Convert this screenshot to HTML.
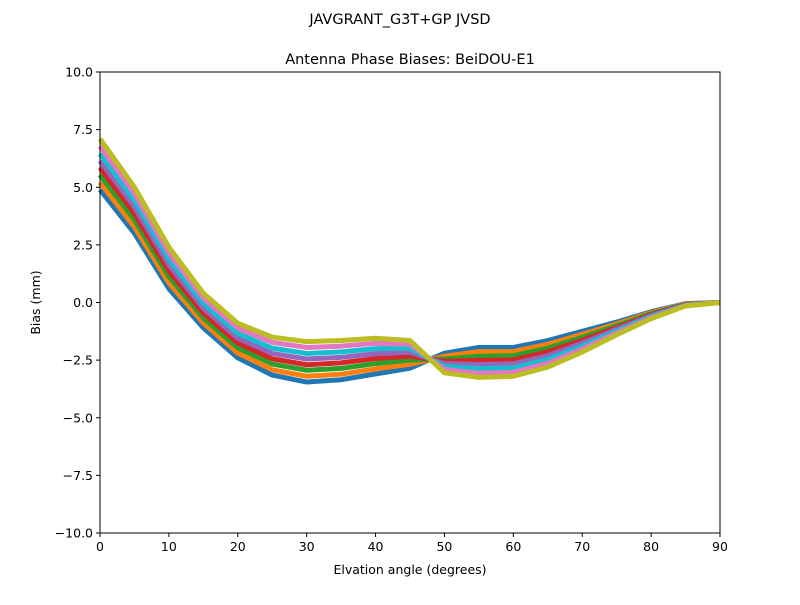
<!DOCTYPE html>
<html><head><meta charset="utf-8"><style>
body{margin:0;background:#fff}
text{font-family:"DejaVu Sans","Liberation Sans",sans-serif;fill:#000}
</style></head><body>
<svg id="chart" width="800" height="600" xmlns="http://www.w3.org/2000/svg">
<text x="400" y="24" font-size="14.5" text-anchor="middle">JAVGRANT_G3T+GP JVSD</text>
<text x="410" y="64" font-size="14.5" text-anchor="middle">Antenna Phase Biases: BeiDOU-E1</text>
<g id="lines"></g>
<g id="axes"></g>
<text x="410" y="574" font-size="12.5" text-anchor="middle">Elvation angle (degrees)</text>
<text transform="translate(40,302.5) rotate(-90)" font-size="12.5" text-anchor="middle">Bias (mm)</text>
</svg>
<script>
const elevations=[0,5,10,15,20,25,30,35,40,45,50,55,60,65,70,75,80,85,90];
const series0=[4.9,3.0,0.6,-1.1,-2.4,-3.15,-3.45,-3.35,-3.1,-2.85,-2.2,-1.95,-1.95,-1.65,-1.25,-0.85,-0.4,-0.05,0];
const series1=[5.21,3.28,0.85,-0.89,-2.19,-2.92,-3.2,-3.11,-2.88,-2.68,-2.33,-2.13,-2.13,-1.81,-1.38,-0.93,-0.44,-0.06,0];
const series2=[5.54,3.58,1.12,-0.67,-1.97,-2.67,-2.94,-2.86,-2.65,-2.5,-2.45,-2.33,-2.31,-1.98,-1.51,-1.01,-0.49,-0.08,0];
const series3=[5.85,3.86,1.37,-0.46,-1.76,-2.44,-2.7,-2.62,-2.43,-2.33,-2.55,-2.51,-2.49,-2.14,-1.64,-1.09,-0.53,-0.09,0];
const series4=[6.15,4.14,1.63,-0.25,-1.55,-2.21,-2.45,-2.38,-2.22,-2.16,-2.65,-2.69,-2.66,-2.31,-1.76,-1.16,-0.57,-0.11,0];
const series5=[6.46,4.42,1.88,-0.04,-1.34,-1.98,-2.21,-2.14,-2.0,-1.98,-2.77,-2.87,-2.84,-2.47,-1.89,-1.24,-0.61,-0.12,0];
const series6=[6.79,4.72,2.15,0.19,-1.11,-1.73,-1.95,-1.89,-1.77,-1.81,-2.9,-3.07,-3.03,-2.64,-2.02,-1.32,-0.66,-0.14,0];
const series7=[7.1,5.0,2.4,0.4,-0.9,-1.5,-1.7,-1.65,-1.55,-1.65,-3.05,-3.25,-3.2,-2.8,-2.15,-1.4,-0.7,-0.15,0];
const allSeries=[series0,series1,series2,series3,series4,series5,series6,series7];
const xTicks=[0,10,20,30,40,50,60,70,80,90];
const yTicks=[-10,-7.5,-5,-2.5,0,2.5,5,7.5,10];
const yTickLabels=["\u221210.0","\u22127.5","\u22125.0","\u22122.5","0.0","2.5","5.0","7.5","10.0"];
const colors=["#1f77b4","#ff7f0e","#2ca02c","#d62728","#9467bd","#17becf","#e377c2","#bcbd22","#8c564b","#7f7f7f"];
const X0=100,X1=720,Y0=533,Y1=72;
const xs=v=>X0+(v-0)/90*(X1-X0);
const ys=v=>Y0-(v+10)/20*(Y0-Y1);
const NS="http://www.w3.org/2000/svg";
const lg=document.getElementById('lines');
allSeries.forEach((s,i)=>{
  const p=document.createElementNS(NS,'polyline');
  p.setAttribute('points',s.map((v,j)=>xs(elevations[j])+','+ys(v)).join(' '));
  p.setAttribute('fill','none');
  p.setAttribute('stroke',colors[i%10]);
  p.setAttribute('stroke-width','5');
  p.setAttribute('stroke-linejoin','round');
  
  
  lg.appendChild(p);
});
const ag=document.getElementById('axes');
const r=document.createElementNS(NS,'rect');
r.setAttribute('x',X0);r.setAttribute('y',Y1);r.setAttribute('width',X1-X0);r.setAttribute('height',Y0-Y1);
r.setAttribute('fill','none');r.setAttribute('stroke','#000');r.setAttribute('stroke-width','1');


ag.appendChild(r);
xTicks.forEach(v=>{
  const l=document.createElementNS(NS,'line');
  l.setAttribute('x1',xs(v));l.setAttribute('x2',xs(v));l.setAttribute('y1',Y0);l.setAttribute('y2',Y0+4);l.setAttribute('stroke','#000');
  
  
  ag.appendChild(l);
  const t=document.createElementNS(NS,'text');
  t.setAttribute('x',xs(v));t.setAttribute('y',Y0+18);t.setAttribute('font-size','12.5');t.setAttribute('text-anchor','middle');
  t.textContent=v;
  
  
  ag.appendChild(t);
});
yTicks.forEach((v,i)=>{
  const l=document.createElementNS(NS,'line');
  l.setAttribute('x1',X0-4);l.setAttribute('x2',X0);l.setAttribute('y1',ys(v));l.setAttribute('y2',ys(v));l.setAttribute('stroke','#000');
  
  
  ag.appendChild(l);
  const t=document.createElementNS(NS,'text');
  t.setAttribute('x',X0-7);t.setAttribute('y',ys(v)+4.5);t.setAttribute('font-size','12.5');t.setAttribute('text-anchor','end');
  t.textContent=yTickLabels[i];
  
  
  ag.appendChild(t);
});
</script>
</body></html>
